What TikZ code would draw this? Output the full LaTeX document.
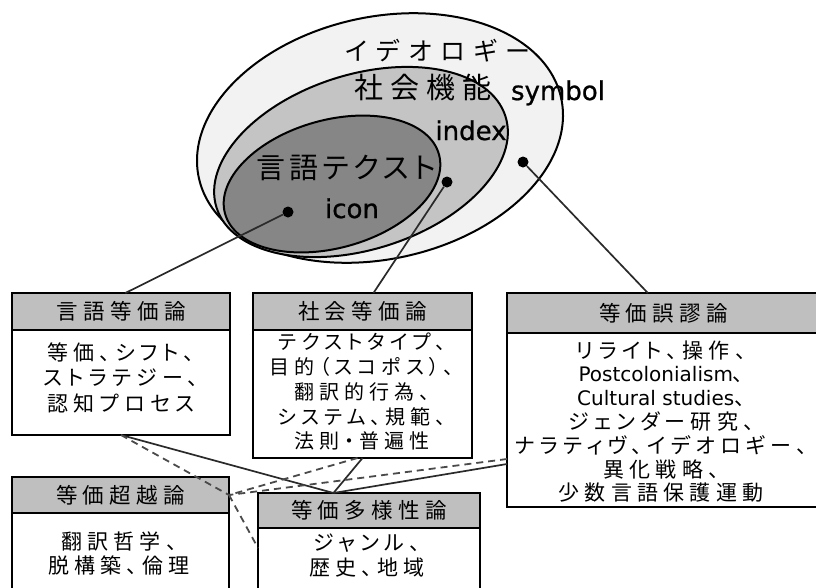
\documentclass[tikz,border=0pt]{standalone}
\usepackage{fontspec}
\newfontfamily\jp[RawFeature=+palt]{Noto Sans CJK JP}
\newfontfamily\lat{DejaVu Sans}
\newfontfamily\latb[FakeBold=0.8]{DejaVu Sans}
\usetikzlibrary{calc}
\definecolor{ellA}{HTML}{F2F2F2}
\definecolor{ellB}{HTML}{C4C4C4}
\definecolor{ellC}{HTML}{868686}
\definecolor{hdr}{HTML}{BFBFBF}
\definecolor{lnc}{HTML}{2A2A2A}
\definecolor{dsc}{HTML}{4A4A4A}
\begin{document}
\begin{tikzpicture}[x=1pt,y=-1pt,
  ell/.style={draw=black,line width=2pt},
  hbox/.style={draw=black,line width=2pt,fill=hdr,anchor=north west,inner sep=0pt,outer sep=0pt,
    font={\fontsize{21.5}{25}\jp\addfontfeature{LetterSpace=25}}},
  bbox/.style={draw=black,line width=2pt,fill=white,anchor=north west,inner sep=0pt,outer sep=0pt},
  btext/.style={align=center,inner sep=0pt,
    font={\fontsize{21}{25.5}\jp\addfontfeature{LetterSpace=25}}},
  dot/.style={circle,fill=black,inner sep=0pt,minimum size=11pt},
  conn/.style={draw=lnc,line width=1.7pt},
  dconn/.style={draw=dsc,line width=1.8pt,dash pattern=on 7pt off 5pt},
  lt/.style={inner sep=0pt,anchor=base,font={\fontsize{26}{30}\latb}},
]
\useasboundingbox (0,0) rectangle (816,587);
\clip (0,0) rectangle (816,587);
\fill[white] (0,0) rectangle (816,587);

% ellipses
\draw[ell,fill=ellA,rotate around={12.5:(380,138)}] (380,138) ellipse (185.5 and 121);
\draw[ell,fill=ellB,rotate around={17.5:(361,162)}] (361,162) ellipse (151.5 and 87.5);
\draw[ell,fill=ellC,rotate around={15.5:(332,184)}] (332,184) ellipse (111 and 64);

\node[inner sep=0pt,font={\fontsize{25}{30}\jp\addfontfeature{LetterSpace=35}}] (tideo) at (438,51) {イデオロギー};
\node[inner sep=0pt,font={\fontsize{29}{34}\jp\addfontfeature{LetterSpace=23}}] (tsoc) at (423,88) {社会機能};
\node[inner sep=0pt,font={\fontsize{29}{34}\jp\addfontfeature{LetterSpace=15}}] (tgen) at (346,168) {言語テクスト};
\node[lt] (tsym) at (558,100) {symbol};
\node[lt] (tidx) at (471,140) {index};
\node[lt] (ticon) at (352,218) {icon};

\node[dot] (d1) at (288,212) {};
\node[dot] (d2) at (447,182) {};
\node[dot] (d3) at (523,162) {};

% boxes
\node[hbox,minimum width=218pt,minimum height=37pt] (h1) at (12,293) {言語等価論};
\node[bbox,minimum width=218pt,minimum height=105pt] (b1) at (12,330) {};
\node[hbox,minimum width=219pt,minimum height=37pt] (h2) at (253,293) {社会等価論};
\node[bbox,minimum width=219pt,minimum height=128pt] (b2) at (253,330) {};
\node[hbox,minimum width=313pt,minimum height=40pt] (h3) at (507,293) {等価誤謬論};
\node[bbox,minimum width=313pt,minimum height=174pt] (b3) at (507,333) {};
\node[hbox,minimum width=217pt,minimum height=36pt] (h4) at (12,477) {等価超越論};
\node[bbox,minimum width=217pt,minimum height=110pt] (b4) at (12,513) {};
\node[hbox,minimum width=222pt,minimum height=35pt] (h5) at (258,493) {等価多様性論};
\node[bbox,minimum width=222pt,minimum height=110pt] (b5) at (258,528) {};

\node[btext] (x1) at (121,377.5) {等価、シフト、\\ストラテジー、\\認知プロセス};
\node[btext,font={\fontsize{20}{24.75}\jp\addfontfeature{LetterSpace=25}}] (x2) at (362,392) {テクストタイプ、\\目的（スコポス）、\\翻訳的行為、\\システム、規範、\\法則・普遍性};
\node[btext,font={\fontsize{21}{23.8}\jp\addfontfeature{LetterSpace=25}}] (x3) at (661,421.5) {リライト、操作、\\{\lat\fontsize{20}{23.8}\selectfont Postcolonialism}、\\{\lat\fontsize{20}{23.8}\selectfont Cultural studies}、\\ジェンダー研究、\\ナラティヴ、イデオロギー、\\異化戦略、\\少数言語保護運動};
\node[btext,font={\fontsize{21}{24}\jp\addfontfeature{LetterSpace=25}}] (x4) at (119,553.5) {翻訳哲学、\\脱構築、倫理};
\node[btext,font={\fontsize{21}{25}\jp\addfontfeature{LetterSpace=25}}] (x5) at (367,555.5) {ジャンル、\\歴史、地域};

% connector points
\coordinate (t1) at ($(h1.north west)!0.52!(h1.north east)$);
\coordinate (t2) at ($(h2.north west)!0.55!(h2.north east)$);
\coordinate (t3) at ($(h3.north west)!0.45!(h3.north east)$);
\coordinate (p5) at ($(h5.north west)!0.34!(h5.north east)$);
\coordinate (p3s) at ($(b3.north west)+(0,131)$);
\coordinate (p3d) at ($(b3.north west)+(0,126)$);
\coordinate (q2) at ($(b2.south)+(-5,0)$);
\coordinate (q5) at ($(b5.north west)+(0,20)$);

\draw[conn] (d1) -- (t1);
\draw[conn] (d2) -- (t2);
\draw[conn] (d3) -- (t3);

\draw[conn] (b1.south) -- (p5);
\draw[conn] (b2.south) -- (p5);
\draw[conn] (p3s) -- (p5);

\draw[dconn] (b1.south) -- (h4.east);
\draw[dconn] (q2) -- (h4.east);
\draw[dconn] (p3d) -- (h4.east);
\draw[dconn] (h4.east) -- (q5);
\end{tikzpicture}
\end{document}
